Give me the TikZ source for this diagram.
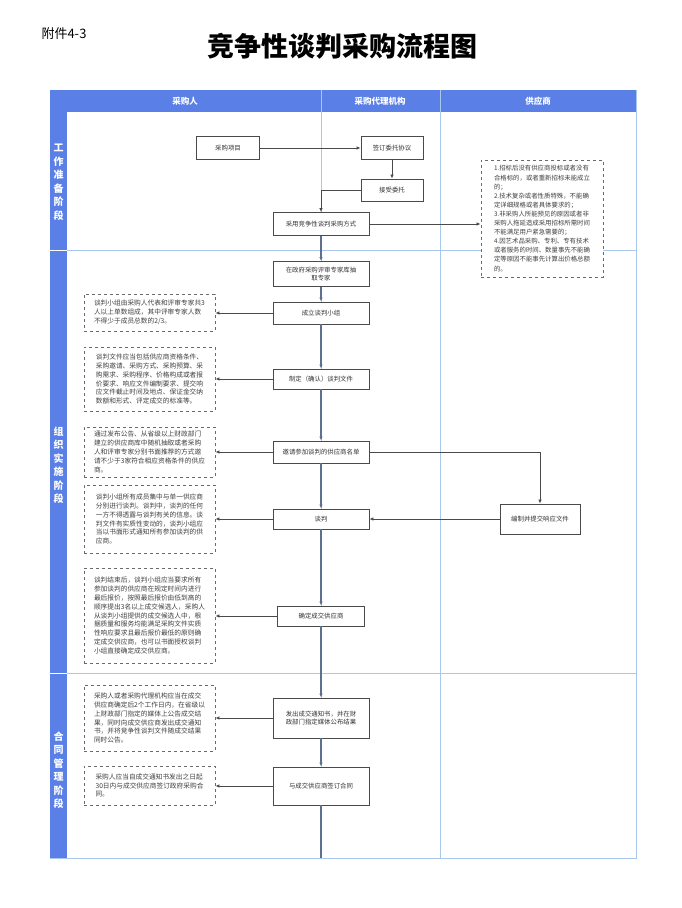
\documentclass[tikz,border=0pt]{standalone}
\usepackage{fontspec}
\setmainfont{Noto Sans CJK SC}
\usetikzlibrary{arrows.meta,positioning}
\definecolor{laneblue}{HTML}{5A7FE6}
\definecolor{gridblue}{HTML}{A9C8EC}
\definecolor{flowgray}{HTML}{5F6F8F}
\definecolor{edgegray}{HTML}{4A4A4A}
\definecolor{notegray}{HTML}{6A6A6A}
\begin{document}
\begin{tikzpicture}[x=1pt,y=-1pt,
    box/.style = {draw=edgegray, line width=0.9pt, fill=white, minimum width=96pt, minimum height=22pt, inner sep=1pt, align=center, font=\fontsize{6.4}{8.6}\selectfont, text=black!80},
    note/.style = {draw=notegray, dashed, line width=0.9pt, fill=white, align=left, inner sep=3pt, font=\fontsize{6.7}{8.9}\selectfont, text=black!75, anchor=center},
    flow/.style = {draw=flowgray, line width=1.1pt, -{Latex[length=4pt,width=3.5pt]}},
    side/.style = {draw=edgegray, line width=0.7pt, -{Latex[length=4pt,width=3.5pt]}},
    lane/.style = {text=white, font=\bfseries\fontsize{8.5}{10}\selectfont},
    stage/.style = {text=white, font=\bfseries\fontsize{10}{13.5}\selectfont, align=center}]
  \useasboundingbox (0,0) rectangle (682,908);
  \fill[white] (0,0) rectangle (682,908);

  % title
  \node[anchor=west, font=\fontsize{13}{15}\selectfont] (tag) at (38,34) {附件4-3};
  \node[font=\bfseries\fontsize{27}{30}\selectfont] (title) at (342,46) {竞争性谈判采购流程图};

  % lanes and grid
  \draw[gridblue, line width=0.8pt] (50,90) rectangle (636,858);
  \draw[gridblue, line width=0.8pt] (321,112) -- (321,858);
  \draw[gridblue, line width=0.8pt] (440,112) -- (440,858);
  \draw[gridblue, line width=0.8pt] (50,250) -- (636,250);
  \draw[gridblue, line width=0.8pt] (50,673) -- (636,673);
  \fill[laneblue] (50,90) rectangle (636,112);
  \fill[laneblue] (50,112) rectangle (67,858);
  \draw[gridblue, line width=0.6pt] (321,90) -- (321,112) (440,90) -- (440,112);
  \draw[white, line width=0.8pt] (50,250) -- (67,250) (50,673) -- (67,673);
  \node[lane] (buyer) at (185,101) {采购人};
  \node[lane] (agent) at (380,101) {采购代理机构};
  \node[lane] (supplier) at (538,101) {供应商};
  \node[stage] (st1) at (58.5,182) {工\\作\\准\\备\\阶\\段};
  \node[stage] (st2) at (58.5,465) {组\\织\\实\\施\\阶\\段};
  \node[stage] (st3) at (58.5,770) {合\\同\\管\\理\\阶\\段};

  % main boxes
  \node[box, minimum width=63pt, minimum height=23pt] (b1) at (228,148) {采购项目};
  \node[box, minimum width=62pt, minimum height=23pt] (b2) at (392,148) {签订委托协议};
  \node[box, minimum width=62pt] (b3) at (392,190) {接受委托};
  \node[box, minimum height=23pt] (b4) at (321,224) {采用竞争性谈判采购方式};
  \node[box, minimum height=25pt] (b5) at (321,274) {在政府采购评审专家库抽\\取专家};
  \node[box] (b6) at (321,313) {成立谈判小组};
  \node[box, minimum height=20pt] (b7) at (321,379) {制定（确认）谈判文件};
  \node[box] (b8) at (321,452) {邀请参加谈判的供应商名单};
  \node[box, minimum height=20pt] (b9) at (321,519) {谈判};
  \node[box, minimum width=87pt, minimum height=20pt] (b10) at (321,616) {确定成交供应商};
  \node[box, minimum height=40pt] (b11) at (321,718) {发出成交通知书，并在财\\政部门指定媒体公布结果};
  \node[box, minimum height=38pt] (b12) at (321,786) {与成交供应商签订合同};
  \node[box, minimum width=80pt, minimum height=30pt] (s1) at (540,519) {编制并提交响应文件};

  % notes
  \node[note, minimum width=122pt, minimum height=117pt, font=\fontsize{6.4}{9.1}\selectfont] (n0) at (542,218.5) {1.招标后没有供应商投标或者没有\\合格标的，或者重新招标未能成立\\的；\\2.技术复杂或者性质特殊，不能确\\定详细规格或者具体要求的；\\3.非采购人所能预见的原因或者非\\采购人拖延造成采用招标所需时间\\不能满足用户紧急需要的；\\4.因艺术品采购、专利、专有技术\\或者服务的时间、数量事先不能确\\定等原因不能事先计算出价格总额\\的。};
  \node[note, minimum width=131pt, minimum height=37pt] (n1) at (149.5,312.5) {谈判小组由采购人代表和评审专家共3\\人以上单数组成，其中评审专家人数\\不得少于成员总数的2/3。};
  \node[note, minimum width=131pt, minimum height=64pt] (n2) at (149.5,379) {谈判文件应当包括供应商资格条件、\\采购邀请、采购方式、采购预算、采\\购需求、采购程序、价格构成或者报\\价要求、响应文件编制要求、提交响\\应文件截止时间及地点、保证金交纳\\数额和形式、评定成交的标准等。};
  \node[note, minimum width=131pt, minimum height=50pt] (n3) at (149.5,452) {通过发布公告、从省级以上财政部门\\建立的供应商库中随机抽取或者采购\\人和评审专家分别书面推荐的方式邀\\请不少于3家符合相应资格条件的供应\\商。};
  \node[note, minimum width=131pt, minimum height=68pt] (n4) at (149.5,519) {谈判小组所有成员集中与单一供应商\\分别进行谈判。谈判中，谈判的任何\\一方不得透露与谈判有关的信息。谈\\判文件有实质性变动的，谈判小组应\\当以书面形式通知所有参加谈判的供\\应商。};
  \node[note, minimum width=131pt, minimum height=95pt] (n5) at (149.5,615.5) {谈判结束后，谈判小组应当要求所有\\参加谈判的供应商在规定时间内进行\\最后报价，按照最后报价由低到高的\\顺序提出3名以上成交候选人，采购人\\从谈判小组提供的成交候选人中，根\\据质量和服务均能满足采购文件实质\\性响应要求且最后报价最低的原则确\\定成交供应商，也可以书面授权谈判\\小组直接确定成交供应商。};
  \node[note, minimum width=131pt, minimum height=66pt] (n6) at (149.5,718) {采购人或者采购代理机构应当在成交\\供应商确定后2个工作日内，在省级以\\上财政部门指定的媒体上公告成交结\\果，同时向成交供应商发出成交通知\\书，并将竞争性谈判文件随成交结果\\同时公告。};
  \node[note, minimum width=131pt, minimum height=39pt] (n7) at (149.5,785.5) {采购人应当自成交通知书发出之日起\\30日内与成交供应商签订政府采购合\\同。};

  % connectors
  \draw[side] (b1) -- (b2);
  \draw[side] (b2) -- (b3);
  \draw[side] (b3.west) -| (b4.north);
  \draw[side] (b4.east) -- (b4.east -| n0.west);
  \draw[flow] (b4) -- (b5);
  \draw[flow] (b5) -- (b6);
  \draw[flow] (b6) -- (b7);
  \draw[flow] (b7) -- (b8);
  \draw[flow] (b8) -- (b9);
  \draw[flow] (b9) -- (b10);
  \draw[flow] (b10) -- (b11);
  \draw[flow] (b11) -- (b12);
  \draw[flowgray, line width=1.1pt] (b12.south) -- (321,858);
  \draw[side] (b8.east) -| (s1.north);
  \draw[side] (s1.west) -- (b9.east);
  \draw[side] (b6.west) -- (b6.west -| n1.east);
  \draw[side] (b7.west) -- (b7.west -| n2.east);
  \draw[side] (b8.west) -- (b8.west -| n3.east);
  \draw[side] (b9.west) -- (b9.west -| n4.east);
  \draw[side] (b10.west) -- (b10.west -| n5.east);
  \draw[side] (b11.west) -- (b11.west -| n6.east);
  \draw[side] (b12.west) -- (b12.west -| n7.east);
\end{tikzpicture}
\end{document}
